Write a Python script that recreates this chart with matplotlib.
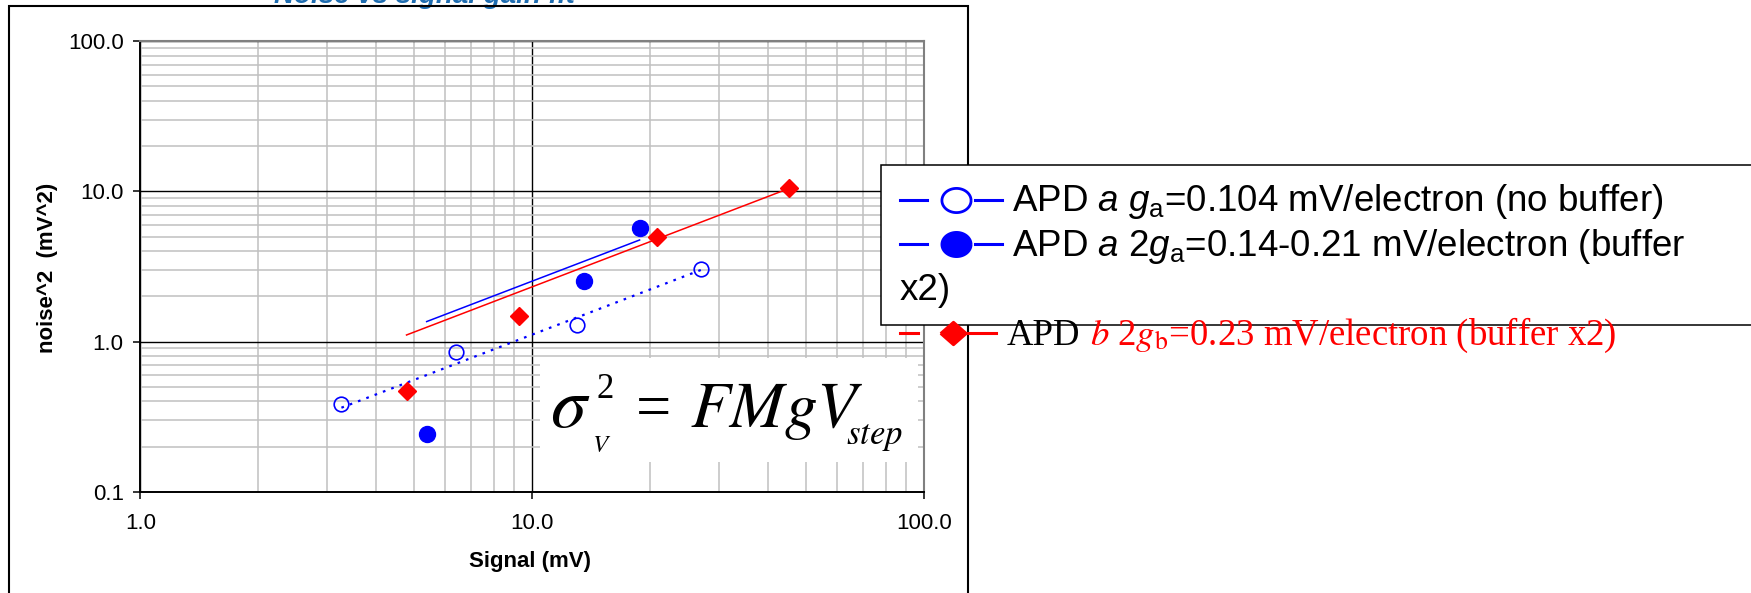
import numpy as np
import matplotlib
matplotlib.use("Agg")
import matplotlib.pyplot as plt
from matplotlib.lines import Line2D
from matplotlib.patches import Rectangle
from matplotlib.ticker import LogLocator, FormatStrFormatter, NullFormatter

plt.rcParams['font.family'] = ['Liberation Sans', 'DejaVu Sans']
plt.rcParams['mathtext.fontset'] = 'custom'
plt.rcParams['mathtext.rm'] = 'Liberation Sans'
plt.rcParams['mathtext.it'] = 'Liberation Sans:italic'
plt.rcParams['mathtext.bf'] = 'Liberation Sans:bold'

# ----------------------------
# Measured points (signal mV, noise^2 mV^2)
# ----------------------------
signal_a = [3.26, 6.41, 12.98, 27.0]          # APD a, no buffer
noise_a = [0.384, 0.857, 1.29, 3.04]

signal_a2 = [5.38, 13.6, 18.8]                # APD a, buffer x2
noise_a2 = [0.241, 2.52, 5.73]

signal_b2 = [4.78, 9.25, 20.8, 45.3]          # APD b, buffer x2
noise_b2 = [0.471, 1.48, 5.0, 10.6]

x_ticks = [1.0, 10.0, 100.0]
y_ticks = [0.1, 1.0, 10.0, 100.0]

BLUE = '#0000FF'
RED = '#FF0000'

W, H = 1751, 593


def fx(x):
    return x / W


def fy(y):
    return 1 - y / H


def origin_fit(x, y):
    # linear trend forced through zero, drawn over the data range
    x = np.asarray(x)
    y = np.asarray(y)
    k = np.sum(x * y) / np.sum(x * x)
    xs = np.array([x.min(), x.max()])
    return xs, k * xs


fig = plt.figure(figsize=(W / 100, H / 100), dpi=100)

ax = fig.add_axes([fx(140.3), fy(491.7), (924 - 140.3) / W, (491.7 - 41.3) / H])
ax.set_xscale('log')
ax.set_yscale('log')
ax.set_xlim(1, 100)
ax.set_ylim(0.1, 100)

# trend lines
xs, ys = origin_fit(signal_a, noise_a)
ax.plot(xs, ys, color=BLUE, lw=1.6, linestyle=(0, (1.2, 2.8)), zorder=3)
xs, ys = origin_fit(signal_a2, noise_a2)
ax.plot(xs, ys, color=BLUE, lw=1.1, zorder=3)
xs, ys = origin_fit(signal_b2, noise_b2)
ax.plot(xs, ys, color=RED, lw=1.1, zorder=3)

# data points
ax.plot(signal_a, noise_a, linestyle='none', marker='o', ms=10.5,
        mfc='none', mec=BLUE, mew=1.2, zorder=4)
ax.plot(signal_a2, noise_a2, linestyle='none', marker='o', ms=11.5,
        mfc=BLUE, mec=BLUE, zorder=4)
ax.plot(signal_b2, noise_b2, linestyle='none', marker='D', ms=9.5,
        mfc=RED, mec=RED, zorder=4)

# axes, ticks, grid
ax.set_xticks(x_ticks)
ax.set_yticks(y_ticks)
ax.xaxis.set_major_formatter(FormatStrFormatter('%.1f'))
ax.yaxis.set_major_formatter(FormatStrFormatter('%.1f'))
ax.xaxis.set_minor_locator(LogLocator(base=10, subs=np.arange(2, 10)))
ax.yaxis.set_minor_locator(LogLocator(base=10, subs=np.arange(2, 10)))
ax.xaxis.set_minor_formatter(NullFormatter())
ax.yaxis.set_minor_formatter(NullFormatter())
ax.tick_params(which='major', direction='out', length=5, width=1.1,
               labelsize=16, color='black')
ax.tick_params(axis='y', which='major', pad=7)
ax.tick_params(axis='x', which='major', pad=10)
ax.tick_params(which='minor', length=0)

ax.set_axisbelow(True)
ax.grid(which='minor', color='#c0c0c0', lw=1.1)
ax.grid(which='major', color='black', lw=1.0)

for side in ['left', 'bottom']:
    ax.spines[side].set_color('black')
    ax.spines[side].set_linewidth(1.4)
for side in ['top', 'right']:
    ax.spines[side].set_color('#808080')
    ax.spines[side].set_linewidth(1.5)

fig.text(fx(529.5), fy(561), 'Signal (mV)', fontsize=16, fontweight='bold',
         ha='center', va='center')
fig.text(fx(47), fy(268), 'noise^2  (mV^2)', fontsize=16, fontweight='bold',
         rotation=90, ha='center', va='center')

# title, running off the top edge and tucked under the frame
fig.text(fx(424), fy(3), 'Noise vs signal gain fit', color='#1f6db0',
         fontsize=20, fontweight='bold', style='italic', ha='center',
         va='baseline', zorder=1)

# outer chart frame
fig.add_artist(Rectangle((fx(9), fy(600)), fx(967.7) - fx(9), fy(5.5) - fy(600),
                         transform=fig.transFigure, fc='none', ec='black',
                         lw=1.5, zorder=1.5))

# formula panel
fig.add_artist(Rectangle((fx(540), fy(462)), fx(918) - fx(540), fy(358) - fy(462),
                         transform=fig.transFigure, fc='white', ec='none', zorder=1))
serif = dict(family='Liberation Serif', math_fontfamily='stix', color='black',
             va='baseline', ha='left', zorder=3)
fig.text(fx(550), fy(427), r'$\sigma$', fontsize=52, **serif)
fig.text(fx(596), fy(398), '2', fontsize=25, **serif)
fig.text(fx(592), fy(451.7), r'$V$', fontsize=18, **serif)
fig.text(fx(636), fy(426.7), '=', fontsize=45, **serif)
fig.text(fx(690), fy(426.7), r'$FMgV$', fontsize=47, **serif)
fig.text(fx(846), fy(444), r'$step$', fontsize=25, **serif)

# legend
fig.add_artist(Rectangle((fx(881), fy(325)), fx(1760) - fx(881), fy(164.7) - fy(325),
                         transform=fig.transFigure, fc='white', ec='black',
                         lw=1.1, zorder=2))

theta = np.linspace(0, 2 * np.pi, 73)
ellipse = np.column_stack([np.cos(theta), 0.83 * np.sin(theta)])
diamond = np.array([[-1, 0], [0, 0.88], [1, 0], [0, -0.88], [-1, 0]])

legend_rows = [
    (200.0, BLUE, ellipse, 'white', 955.7, (900, 927), (975, 1002)),
    (244.3, BLUE, ellipse, BLUE, 955.7, (900, 927), (975, 1002)),
    (333.0, RED, diamond, RED, 953.0, (900, 918), (968, 996)),
]
for y, col, mk, face, mx, seg1, seg2 in legend_rows:
    for seg in (seg1, seg2):
        fig.add_artist(Line2D([fx(seg[0]), fx(seg[1])], [fy(y), fy(y)],
                              transform=fig.transFigure, color=col, lw=2.2, zorder=3))
    fig.add_artist(Line2D([fx(mx)], [fy(y)], transform=fig.transFigure,
                          marker=mk, ms=21 if mk is ellipse else 18.5,
                          mfc=face, mec=col, mew=2.0, linestyle='none', zorder=3))

sans = dict(fontsize=26.5, color='black', va='baseline', ha='left', zorder=3)
fig.text(fx(1011.7), fy(211), r'APD $a$ $g_{\rm a}$=0.104 mV/electron (no buffer)', **sans)
fig.text(fx(1011.7), fy(256), r'APD $a$ 2$g_{\rm a}$=0.14-0.21 mV/electron (buffer', **sans)
fig.text(fx(900), fy(300), 'x2)', **sans)

fig.text(fx(1006.7), fy(345), 'APD', fontsize=26.5, family='Liberation Serif',
         color='black', va='baseline', ha='left', zorder=3)
fig.text(fx(1090), fy(345), r'$b$ 2$g_{\rm b}$=0.23 mV/electron (buffer x2)',
         fontsize=26.5, family='Liberation Serif', math_fontfamily='stix',
         color=RED, va='baseline', ha='left', zorder=3)

fig.savefig('out.png', dpi=100)
